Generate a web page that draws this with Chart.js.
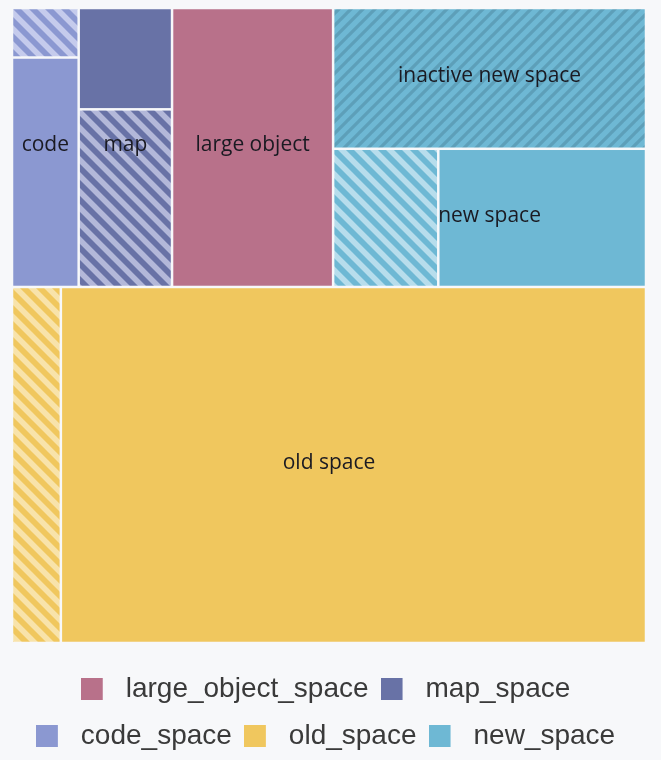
<!DOCTYPE html>
<html><head><meta charset="utf-8">
<script src="https://cdn.jsdelivr.net/npm/chart.js@4.4.1/dist/chart.umd.min.js"></script>
<style>html,body{margin:0;padding:0;background:#f7f8fa}#wrap{width:661px;height:760px;position:relative}</style>
</head><body><div id="wrap"><canvas id="c"></canvas></div>
<script>
// ---- data (arbitrary size units) ----
const spaces       = ['code_space', 'map_space', 'large_object_space', 'new_space', 'old_space'];
const spaceLabels  = ['code', 'map', 'large object', 'new space', 'old space'];
const usedSize      = [3.80, 2.35, 11.16, 7.13, 51.74];
const availableSize = [0.82, 4.12, 0, 3.61, 4.32];
const inactiveSize  = [0, 0, 0, 10.94, 0];
const inactiveLabel = 'inactive new space';
const legendOrder   = ['large_object_space', 'map_space', 'code_space', 'old_space', 'new_space'];

// ---- styles ----
const solidColor = {
  large_object_space: '#b8718a', map_space: '#6872a6', code_space: '#8b98d1',
  new_space: '#6eb8d4', old_space: '#f0c75e'
};
const lightStripe = {
  map_space: '#b3b8d9', code_space: '#c5cbec', new_space: '#b7ddec', old_space: '#f8e3aa', large_object_space: '#dcb5c3'
};
const inactiveStripe = '#5d9fb9';

// ---- build hierarchy from the arrays ----
function sumNode(n) { return n.children ? n.children.reduce((s, c) => s + sumNode(c), 0) : n.value; }
function asc(list) { return list.filter(n => sumNode(n) > 0).sort((a, b) => sumNode(a) - sumNode(b)); }
const groups = spaces.map((space, i) => {
  const used = { space, kind: 'used', value: usedSize[i] };
  const avail = { space, kind: 'available', value: availableSize[i] };
  let node;
  if (inactiveSize[i] > 0) {
    const inactive = { space, kind: 'inactive', value: inactiveSize[i], label: inactiveLabel };
    node = { space, children: [inactive, { space, label: spaceLabels[i], children: asc([avail, used]) }] };
  } else {
    const kids = asc([avail, used]);
    node = kids.length === 1 ? Object.assign(kids[0], { label: spaceLabels[i] })
                             : { space, label: spaceLabels[i], children: kids };
  }
  return node;
});
const sortedGroups = asc(groups);
const largest = sortedGroups[sortedGroups.length - 1];
const root = { children: [{ children: sortedGroups.slice(0, -1) }, largest] };

// slice-and-dice layout in unit space: even depth stacks vertically, odd depth side by side
const leaves = [], labelled = [];
function layout(node, x0, y0, x1, y1, depth) {
  node.rect = { x0, y0, x1, y1 };
  if (node.label) labelled.push(node);
  if (!node.children) { leaves.push(node); return; }
  const total = sumNode(node);
  let pos = depth % 2 === 0 ? y0 : x0;
  node.children.forEach(ch => {
    const f = sumNode(ch) / total;
    if (depth % 2 === 0) { const e = pos + (y1 - y0) * f; layout(ch, x0, pos, x1, e, depth + 1); pos = e; }
    else { const e = pos + (x1 - x0) * f; layout(ch, pos, y0, e, y1, depth + 1); pos = e; }
  });
}
layout(root, 0, 0, 1, 1, 0);

// ---- fills ----
function stripePattern(ctx, base, stripe, period, width, dir) {
  const c = document.createElement('canvas'); c.width = c.height = period;
  const g = c.getContext('2d');
  g.fillStyle = base; g.fillRect(0, 0, period, period);
  g.strokeStyle = stripe; g.lineWidth = width; g.beginPath();
  for (let k = -period; k <= period; k += period) {
    if (dir === 'down') { g.moveTo(k - period, -period); g.lineTo(k + 2 * period, 2 * period); }
    else { g.moveTo(k - period, 2 * period); g.lineTo(k + 2 * period, -period); }
  }
  g.stroke();
  return ctx.createPattern(c, 'repeat');
}
function fillFor(ctx, leaf) {
  if (leaf.kind === 'used') return solidColor[leaf.space];
  if (leaf.kind === 'available') return stripePattern(ctx, solidColor[leaf.space], lightStripe[leaf.space], 16, 5.6, 'down');
  return stripePattern(ctx, solidColor[leaf.space], inactiveStripe, 12, 3.2, 'up');
}
function swatch(color) {
  const c = document.createElement('canvas'); c.width = 38; c.height = 22;
  const g = c.getContext('2d'); g.fillStyle = color; g.fillRect(0, 0, 22, 22);
  return c;
}

const GAP = 1.25;
const treemapPlugin = {
  id: 'treemapLite',
  beforeDatasetsDraw(chart) {
    const { ctx, scales: { x, y } } = chart;
    ctx.save();
    leaves.forEach(leaf => {
      const r = leaf.rect;
      const a = x.getPixelForValue(r.x0), b = x.getPixelForValue(r.x1);
      const c = y.getPixelForValue(r.y0), d = y.getPixelForValue(r.y1);
      const l = Math.min(a, b) + GAP, t = Math.min(c, d) + GAP;
      ctx.fillStyle = fillFor(ctx, leaf);
      ctx.fillRect(l, t, Math.abs(b - a) - 2 * GAP, Math.abs(d - c) - 2 * GAP);
    });
    ctx.fillStyle = '#1a1a22';
    ctx.font = '21px "Open Sans"';
    ctx.textAlign = 'center'; ctx.textBaseline = 'middle';
    labelled.forEach(n => {
      const r = n.rect;
      const cx = x.getPixelForValue((r.x0 + r.x1) / 2), cy = y.getPixelForValue((r.y0 + r.y1) / 2);
      ctx.fillText(n.label, cx, cy - 2);
    });
    ctx.restore();
  }
};

new Chart(document.getElementById('c'), {
  type: 'scatter',
  data: { datasets: legendOrder.map(s => ({ label: s, data: [], backgroundColor: solidColor[s] })) },
  options: {
    responsive: true, maintainAspectRatio: false, animation: false,
    layout: { padding: { left: 12, right: 15, top: 8, bottom: 0 } },
    scales: {
      x: { type: 'linear', min: 0, max: 1, display: false },
      y: { type: 'linear', min: 0, max: 1.0205, reverse: true, display: false }
    },
    plugins: {
      tooltip: { enabled: false },
      legend: {
        position: 'bottom',
        onClick: null,
        labels: {
          usePointStyle: true, pointStyleWidth: 24, padding: 19, color: '#3a3a3a',
          font: { family: '"Liberation Sans", Arial, sans-serif', size: 28 },
          generateLabels: (chart) => chart.data.datasets.map((ds, i) => ({
            text: ds.label, pointStyle: swatch(solidColor[ds.label]), fillStyle: solidColor[ds.label],
            strokeStyle: 'transparent', lineWidth: 0, hidden: false, datasetIndex: i, fontColor: '#3a3a3a'
          }))
        }
      }
    }
  },
  plugins: [treemapPlugin]
});
</script></body></html>
